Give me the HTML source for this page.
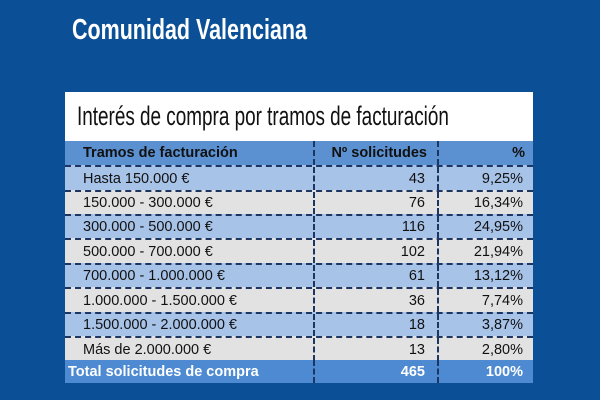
<!DOCTYPE html>
<html><head><meta charset="utf-8"><style>
body{margin:0;width:600px;height:400px;background:#0b4f97;position:relative;overflow:hidden;font-family:"Liberation Sans",sans-serif}
.t{position:absolute;left:72px;top:14px;color:#fff;font-weight:bold;font-size:29px;transform:scaleX(0.74);transform-origin:left top;white-space:nowrap}
.box{position:absolute;left:65px;top:92px;width:468px;height:49px;background:#fff}
.box span{position:absolute;left:12px;top:9px;font-size:27px;color:#111;transform:scaleX(0.7);transform-origin:left top;white-space:nowrap}
.row{position:absolute;left:65px;width:468px;border-top:2px dashed #1c3561;box-sizing:border-box;font-size:14.5px;color:#111}
.row div{position:absolute;top:0;bottom:0;display:flex;align-items:center;white-space:nowrap}
.c1{left:18px}.c2{left:248px;width:110px;justify-content:flex-end;border-left:2px dashed #1c3561}
.c3{left:372px;width:84px;justify-content:flex-end;border-left:2px dashed #1c3561;padding-left:0}
.c3b{position:absolute;left:372px;top:0;bottom:0;border-left:2px dashed #1c3561}
.b{background:#a8c3e8}.g{background:#e3e2e2}
.hd{background:#5b90d1;font-weight:bold;border-top:none}
.tot{background:#4d8ad2;color:#fff;font-weight:bold}
</style></head><body>
<div class="t">Comunidad Valenciana</div>
<div class="box"><span>Interés de compra por tramos de facturación</span></div>
<div class="row hd" style="top:141px;height:24px"><div class="c1">Tramos de facturación</div><div class="c2" style="width:112px">Nº solicitudes</div><div class="c3" style="left:372px;width:86px">%</div></div>
<div class="row b" style="top:165px;height:25px"><div class="c1">Hasta 150.000 €</div><div class="c2">43</div><div class="c3">9,25%</div></div>
<div class="row g" style="top:190px;height:24px"><div class="c1">150.000 - 300.000 €</div><div class="c2">76</div><div class="c3">16,34%</div></div>
<div class="row b" style="top:214px;height:24px"><div class="c1">300.000 - 500.000 €</div><div class="c2">116</div><div class="c3">24,95%</div></div>
<div class="row g" style="top:238px;height:25px"><div class="c1">500.000 - 700.000 €</div><div class="c2">102</div><div class="c3">21,94%</div></div>
<div class="row b" style="top:263px;height:24px"><div class="c1">700.000 - 1.000.000 €</div><div class="c2">61</div><div class="c3">13,12%</div></div>
<div class="row g" style="top:287px;height:25px"><div class="c1">1.000.000 - 1.500.000 €</div><div class="c2">36</div><div class="c3">7,74%</div></div>
<div class="row b" style="top:312px;height:24px"><div class="c1">1.500.000 - 2.000.000 €</div><div class="c2">18</div><div class="c3">3,87%</div></div>
<div class="row g" style="top:336px;height:25px"><div class="c1">Más de 2.000.000 €</div><div class="c2">13</div><div class="c3">2,80%</div></div>
<div class="row tot" style="top:360px;height:23px;border-top:none"><div class="c1" style="left:3px">Total solicitudes de compra</div><div class="c2">465</div><div class="c3">100%</div></div>
</body></html>
